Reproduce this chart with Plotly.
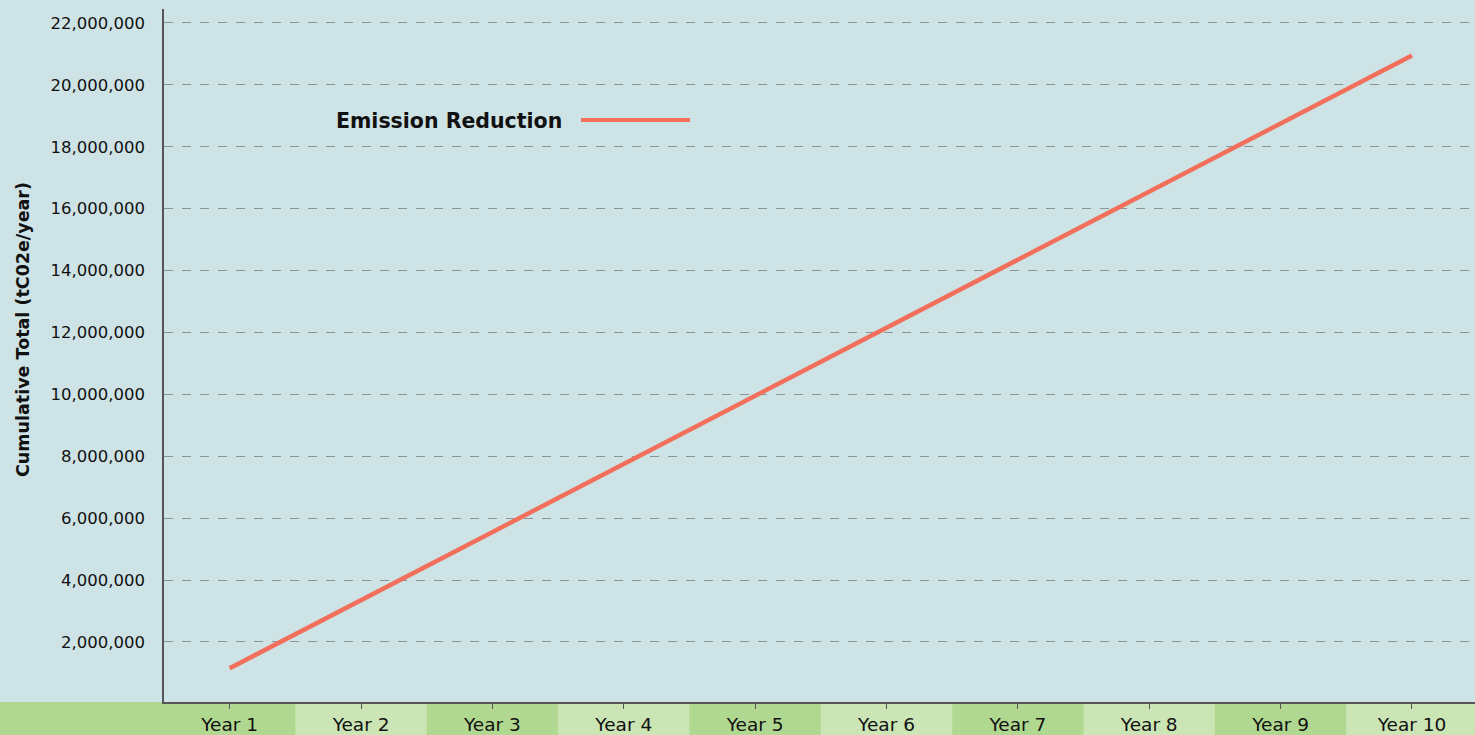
import plotly.graph_objects as go

years = ["Year 1", "Year 2", "Year 3", "Year 4", "Year 5",
         "Year 6", "Year 7", "Year 8", "Year 9", "Year 10"]
emission_reduction = [1150000, 3350000, 5550000, 7750000, 9950000,
                      12150000, 14350000, 16550000, 18750000, 20950000]
y_ticks = [2000000, 4000000, 6000000, 8000000, 10000000,
           12000000, 14000000, 16000000, 18000000, 20000000, 22000000]

BG = "#cee3e6"
LINE = "#f26f5c"
GREEN_DARK = "#b0d890"
GREEN_LIGHT = "#cbe5b5"
FONT = "DejaVu Sans, Liberation Sans, Arial, sans-serif"

W, H = 1475, 735
ML, MR, MT, MB = 164, 0, 9, 33
plot_w = W - ML - MR
plot_h = H - MT - MB

fig = go.Figure()
fig.add_trace(go.Scatter(
    x=list(range(len(years))), y=emission_reduction, mode="lines",
    line=dict(color=LINE, width=4.5), name="Emission Reduction",
    showlegend=False, hoverinfo="x+y",
))

shapes = []
band_bottom = -MB / plot_h
# base band under the whole axis strip (left margin included)
shapes.append(dict(type="rect", xref="paper", yref="paper",
                   x0=-ML / plot_w, x1=1.0, y0=band_bottom, y1=0,
                   fillcolor=GREEN_DARK, line=dict(width=0), layer="below"))
# alternating lighter cells behind even-numbered years
for i in range(len(years)):
    if i % 2 == 1:
        shapes.append(dict(type="rect", xref="x", yref="paper",
                           x0=i - 0.5, x1=i + 0.5, y0=band_bottom, y1=0,
                           fillcolor=GREEN_LIGHT, line=dict(width=0),
                           layer="below"))

# legend sample line next to the label
leg_y = 1 - (120 - MT) / plot_h
shapes.append(dict(type="line", xref="paper", yref="paper",
                   x0=(581 - ML) / plot_w, x1=(690 - ML) / plot_w,
                   y0=leg_y, y1=leg_y,
                   line=dict(color=LINE, width=4)))

annotations = [
    dict(text="<b>Emission Reduction</b>", xref="paper", yref="paper",
         x=(564 - ML) / plot_w, y=leg_y - 1 / plot_h,
         xanchor="right", yanchor="middle", showarrow=False,
         font=dict(family=FONT, size=20.5, color="#111111")),
    # rotated y-axis title
    dict(text="<b>Cumulative Total (tC02e/year)</b>", xref="paper",
         yref="paper", x=(23 - ML) / plot_w, y=1 - (330 - MT) / plot_h,
         xanchor="center", yanchor="middle", textangle=-90,
         showarrow=False, font=dict(family=FONT, size=17.5, color="#111111")),
]

fig.update_layout(
    width=W, height=H,
    margin=dict(l=ML, r=MR, t=MT, b=MB, pad=0),
    paper_bgcolor=BG, plot_bgcolor=BG,
    shapes=shapes, annotations=annotations,
    showlegend=False,
    font=dict(family=FONT, color="#111111"),
    xaxis=dict(
        tickmode="array", tickvals=list(range(len(years))), ticktext=years,
        range=[-0.5, 9.48], showgrid=False, zeroline=False,
        showline=True, linecolor="#555555", linewidth=1.5,
        ticks="outside", ticklen=5, tickcolor="#555555", tickwidth=1.2,
        ticklabelstandoff=0,
        tickfont=dict(family=FONT, size=18.5, color="#111111"),
        automargin=False, fixedrange=True,
    ),
    yaxis=dict(
        tickmode="array", tickvals=y_ticks,
        ticktext=[f"{v:,}" for v in y_ticks],
        range=[60000, 22450000], zeroline=False,
        showgrid=True, gridcolor="#8a9499", griddash="dash", gridwidth=1,
        showline=True, linecolor="#555555", linewidth=1.5,
        ticks="", ticklabelstandoff=14,
        tickfont=dict(family=FONT, size=16.5, color="#111111"),
        automargin=False, fixedrange=True,
    ),
)

fig.write_html("out.html")
